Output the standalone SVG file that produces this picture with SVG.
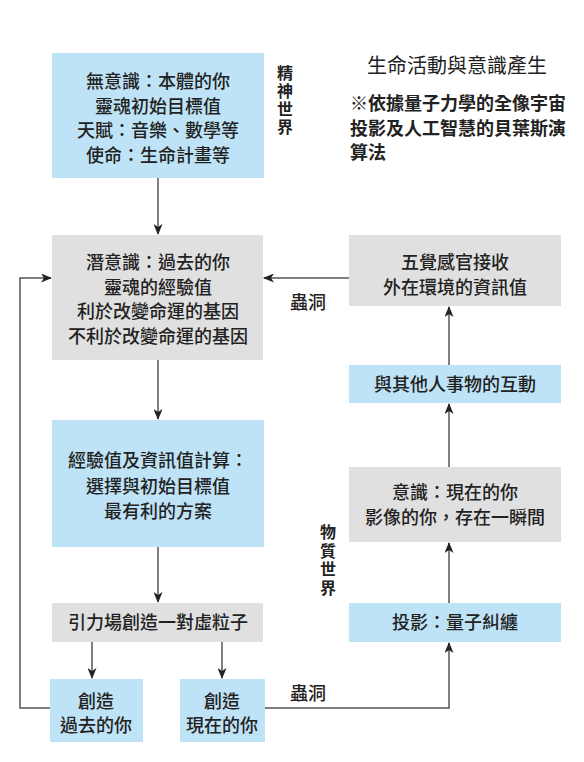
<svg xmlns="http://www.w3.org/2000/svg" width="584" height="762" viewBox="0 0 584 762">
<style>
.blue{fill:#bfe3f6}
.gray{fill:#e0e0e0}
text{font-family:"Noto Sans CJK TC","Noto Sans CJK SC",sans-serif;fill:#222}
.t{font-size:18px;font-weight:500;text-anchor:middle}
.v{font-size:16px;font-weight:700;writing-mode:vertical-rl;letter-spacing:2px}
.lbl{font-size:18px;font-weight:500;text-anchor:middle}
.title{font-size:20px;font-weight:400;text-anchor:middle}
.sub{font-size:18px;font-weight:700}
.c{fill:none;stroke:#555;stroke-width:1.5}
</style>
<defs>
<marker id="ah" markerUnits="userSpaceOnUse" markerWidth="11" markerHeight="9" refX="10" refY="4.5" orient="auto">
<path d="M0,0 L11,4.5 L0,9 L3,4.5 z" fill="#222"/>
</marker>
</defs>
<rect width="584" height="762" fill="#fff"/>
<g id="connectors">
<path class="c" d="M158,178 V234" marker-end="url(#ah)"/>
<path class="c" d="M158,360 V419" marker-end="url(#ah)"/>
<path class="c" d="M158,547 V602" marker-end="url(#ah)"/>
<path class="c" d="M92,642 V678" marker-end="url(#ah)"/>
<path class="c" d="M222,642 V678" marker-end="url(#ah)"/>
<path class="c" d="M50,708 H20 V278 H51" marker-end="url(#ah)"/>
<path class="c" d="M349,278 H264" marker-end="url(#ah)"/>
<path class="c" d="M265,708 H449 V643" marker-end="url(#ah)"/>
<path class="c" d="M449,603 V543" marker-end="url(#ah)"/>
<path class="c" d="M449,467 V404" marker-end="url(#ah)"/>
<path class="c" d="M449,365 V307" marker-end="url(#ah)"/>
<text class="lbl" x="308" y="309">蟲洞</text>
<text class="lbl" x="308" y="700">蟲洞</text>
</g>
<g id="title">
<text class="title" x="457" y="73">生命活動與意識產生</text>
<text class="sub" x="350" y="110">※依據量子力學的全像宇宙</text>
<text class="sub" x="350" y="135">投影及人工智慧的貝葉斯演</text>
<text class="sub" x="350" y="159">算法</text>
</g>
<g id="label-spirit">
<text class="v" x="285" y="65">精神世界</text>
</g>
<g id="label-matter">
<text class="v" x="328" y="524" style="letter-spacing:2.5px">物質世界</text>
</g>
<g id="unconscious">
<rect class="blue" x="52" y="53" width="212" height="125"/>
<text class="t" x="158" y="88">無意識：本體的你</text>
<text class="t" x="158" y="113">靈魂初始目標值</text>
<text class="t" x="158" y="137">天賦：音樂、數學等</text>
<text class="t" x="158" y="162">使命：生命計畫等</text>
</g>
<g id="subconscious">
<rect class="gray" x="52" y="235" width="211" height="125"/>
<text class="t" x="158" y="269">潛意識：過去的你</text>
<text class="t" x="158" y="294">靈魂的經驗值</text>
<text class="t" x="158" y="318">利於改變命運的基因</text>
<text class="t" x="158" y="343">不利於改變命運的基因</text>
</g>
<g id="compute">
<rect class="blue" x="52" y="420" width="212" height="127"/>
<text class="t" x="158" y="467">經驗值及資訊值計算：</text>
<text class="t" x="158" y="493">選擇與初始目標值</text>
<text class="t" x="158" y="518">最有利的方案</text>
</g>
<g id="gravity">
<rect class="gray" x="52" y="603" width="211" height="39"/>
<text class="t" x="158" y="629">引力場創造一對虛粒子</text>
</g>
<g id="create-past">
<rect class="blue" x="50" y="679" width="93" height="63"/>
<text class="t" x="96" y="708">創造</text>
<text class="t" x="96" y="732">過去的你</text>
</g>
<g id="create-present">
<rect class="blue" x="180" y="679" width="85" height="63"/>
<text class="t" x="222" y="708">創造</text>
<text class="t" x="222" y="732">現在的你</text>
</g>
<g id="senses">
<rect class="gray" x="349" y="235" width="212" height="71"/>
<text class="t" x="455" y="269">五覺感官接收</text>
<text class="t" x="455" y="294">外在環境的資訊值</text>
</g>
<g id="interaction">
<rect class="blue" x="349" y="365" width="212" height="38"/>
<text class="t" x="455" y="391">與其他人事物的互動</text>
</g>
<g id="consciousness">
<rect class="gray" x="349" y="467" width="212" height="75"/>
<text class="t" x="455" y="499">意識：現在的你</text>
<text class="t" x="455" y="524">影像的你，存在一瞬間</text>
</g>
<g id="projection">
<rect class="blue" x="349" y="603" width="212" height="39"/>
<text class="t" x="455" y="629">投影：量子糾纏</text>
</g>
</svg>
